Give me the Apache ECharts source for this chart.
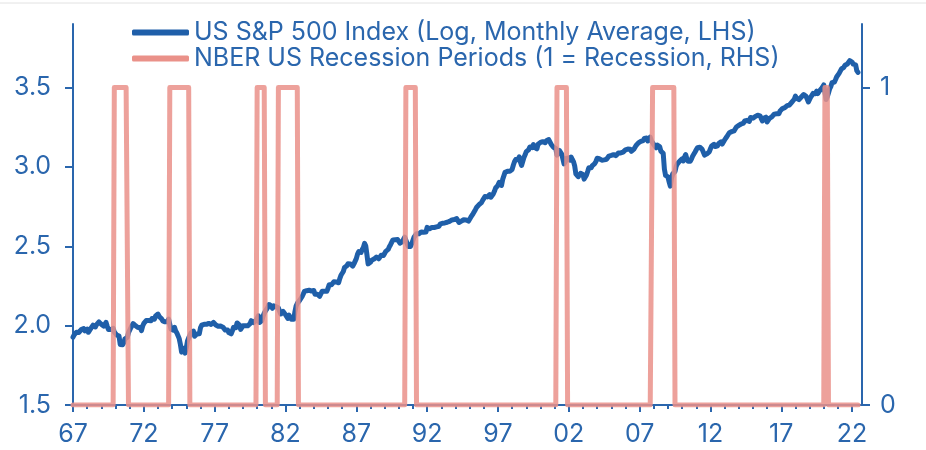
<!DOCTYPE html>
<html>
<head>
<meta charset="utf-8">
<script src="https://cdn.jsdelivr.net/npm/echarts@6/dist/echarts.min.js"></script>
<style>
html, body { margin: 0; padding: 0; background: #fff; }
#main { width: 926px; height: 450px; }
</style>
</head>
<body>
<div id="main"></div>
<script>
// S&P 500 monthly average, log10, starting Jan 1967
var startYear = 1967;
var spx1960s = [
  1.927,1.942,1.949,1.959,1.967,1.957,1.968,1.975,1.981,1.981,1.967,1.979,
  1.978,1.958,1.950,1.981,1.992,2.003,2.000,1.992,2.006,2.016,2.023,2.027,
  2.009,2.006,1.997,2.006,2.020,1.996,1.976,1.974,1.975,1.980,1.983,1.960
];
var spx1970s = [
  1.956,1.941,1.948,1.934,1.881,1.879,1.879,1.892,1.917,1.926,1.926,1.955,
  1.971,1.987,1.998,2.013,2.007,1.999,1.996,1.988,1.997,1.988,1.968,1.997,
  2.014,2.022,2.032,2.037,2.032,2.033,2.030,2.045,2.039,2.040,2.061,2.070,
  2.073,2.058,2.051,2.043,2.030,2.020,2.024,2.016,2.024,2.041,2.009,1.977,
  1.983,1.971,1.989,1.966,1.953,1.953,1.918,1.881,1.833,1.841,1.856,1.827,
  1.861,1.904,1.923,1.928,1.955,1.966,1.966,1.933,1.928,1.947,1.955,1.948,
  1.986,2.003,2.005,2.008,2.005,2.008,2.018,2.014,2.023,2.008,2.005,2.020,
  2.016,2.004,2.003,1.996,1.995,1.997,2.001,1.990,1.983,1.972,1.975,1.972,
  1.956,1.949,1.948,1.967,1.989,1.990,1.987,2.017,2.017,2.003,1.976,1.983,
  1.999,1.992,2.000,2.009,1.999,2.007,2.012,2.031,2.036,2.019,2.016,2.033
];
var spx1980s = [
  2.045,2.062,2.020,2.013,2.032,2.059,2.078,2.092,2.102,2.115,2.133,2.125,
  2.124,2.109,2.125,2.128,2.120,2.122,2.111,2.113,2.073,2.078,2.090,2.093,
  2.069,2.059,2.045,2.066,2.066,2.040,2.039,2.040,2.088,2.123,2.140,2.144,
  2.159,2.167,2.182,2.198,2.215,2.221,2.220,2.214,2.223,2.225,2.218,2.216,
  2.221,2.197,2.197,2.198,2.195,2.185,2.179,2.216,2.220,2.217,2.221,2.216,
  2.234,2.257,2.254,2.257,2.267,2.276,2.284,2.275,2.265,2.270,2.296,2.317,
  2.318,2.341,2.366,2.377,2.377,2.390,2.381,2.389,2.377,2.375,2.389,2.395,
  2.422,2.449,2.466,2.461,2.461,2.479,2.492,2.518,2.503,2.447,2.389,2.382,
  2.399,2.412,2.424,2.419,2.408,2.432,2.430,2.421,2.428,2.443,2.433,2.442,
  2.455,2.468,2.466,2.480,2.497,2.510,2.521,2.540,2.541,2.541,2.532,2.542
];
var spx1990s = [
  2.531,2.519,2.530,2.529,2.544,2.557,2.556,2.520,2.499,2.487,2.499,2.517,
  2.513,2.559,2.571,2.579,2.577,2.578,2.580,2.590,2.588,2.588,2.586,2.589,
  2.619,2.616,2.610,2.610,2.618,2.611,2.618,2.621,2.622,2.615,2.626,2.639,
  2.639,2.645,2.653,2.647,2.649,2.651,2.651,2.657,2.662,2.666,2.665,2.668,
  2.675,2.674,2.666,2.650,2.654,2.658,2.655,2.667,2.669,2.666,2.664,2.658,
  2.668,2.683,2.693,2.706,2.719,2.732,2.746,2.747,2.762,2.766,2.775,2.789,
  2.788,2.813,2.811,2.811,2.820,2.825,2.809,2.821,2.829,2.846,2.867,2.871,
  2.884,2.902,2.899,2.883,2.921,2.943,2.966,2.967,2.972,2.978,2.973,2.983,
  2.984,3.010,3.032,3.046,3.045,3.045,3.063,3.031,3.009,3.014,3.059,3.076,
  3.096,3.096,3.108,3.125,3.125,3.121,3.140,3.123,3.120,3.114,3.143,3.155
];
var spx2000s = [
  3.154,3.143,3.159,3.165,3.152,3.165,3.168,3.172,3.167,3.143,3.139,3.124,
  3.126,3.116,3.074,3.075,3.104,3.093,3.081,3.071,3.019,3.032,3.053,3.059,
  3.057,3.042,3.062,3.046,3.033,3.006,2.956,2.960,2.938,2.932,2.959,2.954,
  2.952,2.923,2.928,2.949,2.971,2.995,2.997,2.995,3.008,3.016,3.021,3.034,
  3.054,3.058,3.051,3.054,3.042,3.054,3.044,3.037,3.048,3.048,3.068,3.079,
  3.072,3.079,3.077,3.066,3.071,3.080,3.087,3.088,3.088,3.076,3.093,3.101,
  3.107,3.106,3.112,3.115,3.111,3.098,3.100,3.110,3.120,3.135,3.143,3.151,
  3.154,3.160,3.148,3.165,3.179,3.180,3.182,3.163,3.175,3.187,3.165,3.170,
  3.140,3.132,3.120,3.137,3.147,3.128,3.099,3.108,3.085,2.986,2.946,2.943,
  2.937,2.906,2.879,2.928,2.955,2.967,2.971,3.004,3.019,3.028,3.037,3.045
];
var spx2010s = [
  3.051,3.037,3.061,3.078,3.051,3.035,3.033,3.036,3.050,3.069,3.079,3.094,
  3.108,3.121,3.115,3.124,3.127,3.110,3.122,3.074,3.070,3.082,3.089,3.095,
  3.114,3.131,3.143,3.142,3.128,3.122,3.133,3.147,3.159,3.158,3.144,3.153,
  3.170,3.180,3.191,3.196,3.215,3.209,3.222,3.223,3.227,3.236,3.251,3.257,
  3.261,3.259,3.270,3.270,3.276,3.289,3.295,3.293,3.300,3.287,3.311,3.313,
  3.307,3.318,3.318,3.321,3.325,3.322,3.321,3.310,3.289,3.306,3.318,3.313,
  3.283,3.280,3.306,3.317,3.315,3.319,3.332,3.338,3.334,3.331,3.335,3.352,
  3.357,3.367,3.374,3.373,3.379,3.386,3.390,3.390,3.397,3.408,3.414,3.426,
  3.446,3.432,3.432,3.424,3.432,3.440,3.446,3.456,3.463,3.445,3.435,3.409,
  3.416,3.440,3.448,3.463,3.456,3.461,3.477,3.462,3.475,3.474,3.492,3.502
];
var spx2020s = [
  3.516,3.515,3.424,3.441,3.465,3.492,3.506,3.530,3.527,3.534,3.550,3.568,
  3.579,3.589,3.592,3.617,3.620,3.627,3.640,3.649,3.648,3.649,3.669,3.670,
  3.660,3.647,3.643,3.643,3.606,3.595
];

// NBER recessions [start year, start month, end year, end month]
var recessions = [
  [1969, 12, 1970, 11],
  [1973, 11, 1975, 3],
  [1980, 1, 1980, 7],
  [1981, 7, 1982, 11],
  [1990, 7, 1991, 3],
  [2001, 3, 2001, 11],
  [2007, 12, 2009, 6],
  [2020, 2, 2020, 4]
];

var xTickYears = [1967, 1972, 1977, 1982, 1987, 1992, 1997, 2002, 2007, 2012, 2017, 2022];
var leftTicks = [1.5, 2.0, 2.5, 3.0, 3.5];
var rightTicks = [0, 1];
var seriesNames = [
  'US S&P 500 Index (Log, Monthly Average, LHS)',
  'NBER US Recession Periods (1 = Recession, RHS)'
];

var blue = '#1f5fa9';
var pink = '#ea9189';
var textBlue = '#2a66ad';
var fontFamily = 'Inter, Roboto, sans-serif';

var spxAll = [].concat(spx1960s, spx1970s, spx1980s, spx1990s, spx2000s, spx2010s, spx2020s);
var spxData = [];
var recData = [];
for (var i = 0; i < spxAll.length; i++) {
  var t = startYear + i / 12;
  spxData.push([t, spxAll[i]]);
  var ym = startYear * 12 + i;
  var flag = 0;
  recessions.forEach(function (r) {
    if (ym >= r[0] * 12 + r[1] - 1 && ym <= r[2] * 12 + r[3] - 1) flag = 1;
  });
  recData.push([t, flag]);
}

var chart = echarts.init(document.getElementById('main'));

chart.setOption({
  animation: false,
  backgroundColor: '#fff',
  textStyle: { fontFamily: fontFamily },
  graphic: [{
    type: 'line',
    shape: { x1: 0, y1: 3, x2: 926, y2: 3 },
    style: { stroke: '#e2e2e2', lineWidth: 1 }
  }],
  legend: {
    orient: 'vertical',
    left: 127,
    top: 15,
    itemWidth: 57,
    itemHeight: 6,
    itemGap: 1,
    icon: 'roundRect',
    textStyle: { color: textBlue, fontSize: 25, fontFamily: fontFamily, lineHeight: 25 },
    data: seriesNames
  },
  grid: { left: 73, right: 64, top: 24, bottom: 45 },
  xAxis: {
    type: 'value',
    min: 1967,
    max: 2022.7,
    interval: 5,
    axisLine: { show: true, lineStyle: { color: textBlue, width: 2 } },
    axisTick: { show: true, length: 7, customValues: xTickYears, lineStyle: { color: textBlue, width: 2 } },
    minorTick: { show: true, splitNumber: 5, length: 4, lineStyle: { color: textBlue, width: 2 } },
    axisLabel: {
      customValues: xTickYears,
      color: textBlue,
      fontSize: 25,
      margin: 17,
      formatter: function (v) { return String(Math.round(v) % 100).padStart(2, '0'); }
    },
    splitLine: { show: false }
  },
  yAxis: [{
    type: 'value',
    min: 1.5,
    max: 3.9,
    interval: 0.5,
    axisLine: { show: true, lineStyle: { color: textBlue, width: 2 } },
    axisTick: { show: true, length: 8, customValues: leftTicks, lineStyle: { color: textBlue, width: 2 } },
    axisLabel: {
      customValues: leftTicks,
      color: textBlue,
      fontSize: 25,
      margin: 22,
      formatter: function (v) { return v.toFixed(1); }
    },
    splitLine: { show: false }
  }, {
    type: 'value',
    min: 0,
    max: 1.2,
    interval: 1,
    position: 'right',
    axisLine: { show: true, lineStyle: { color: textBlue, width: 2 } },
    axisTick: { show: true, length: 8, customValues: rightTicks, lineStyle: { color: textBlue, width: 2 } },
    axisLabel: {
      customValues: rightTicks,
      color: textBlue,
      fontSize: 25,
      margin: 18,
      formatter: function (v) { return String(v); }
    },
    splitLine: { show: false }
  }],
  series: [{
    name: seriesNames[0],
    type: 'line',
    yAxisIndex: 0,
    data: spxData,
    showSymbol: false,
    symbol: 'none',
    color: blue,
    lineStyle: { color: blue, width: 5, cap: 'round', join: 'round' },
    z: 2
  }, {
    name: seriesNames[1],
    type: 'line',
    yAxisIndex: 1,
    data: recData,
    showSymbol: false,
    symbol: 'none',
    color: pink,
    lineStyle: { color: pink, width: 5, opacity: 0.85, cap: 'round', join: 'round' },
    z: 3
  }]
});
</script>
</body>
</html>
